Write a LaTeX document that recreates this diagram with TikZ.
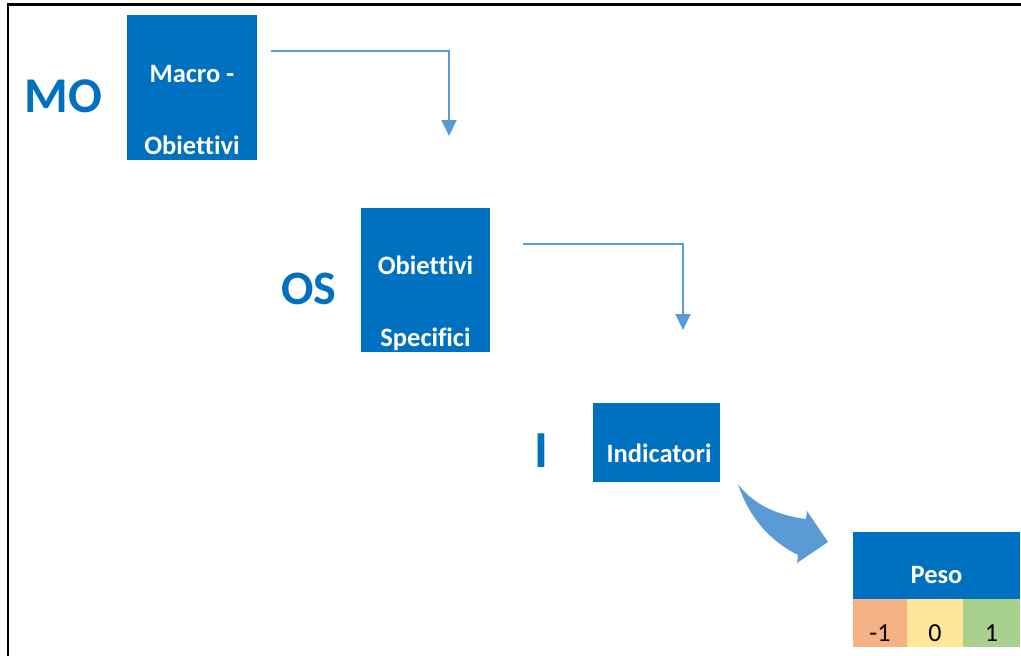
\documentclass[tikz,border=0pt]{standalone}
\usepackage{fontspec}
\setmainfont[Ligatures=NoCommon]{Carlito}
\usetikzlibrary{arrows.meta}
\definecolor{boxblue}{HTML}{0070C0}
\definecolor{arrblue}{HTML}{5B9BD5}
\definecolor{cellred}{HTML}{F4B183}
\definecolor{cellyel}{HTML}{FFE699}
\definecolor{cellgrn}{HTML}{A9D18E}
\tikzset{
  bluebox/.style={fill=boxblue, draw=none, inner sep=0pt},
  boxtext/.style={text=white, font=\fontsize{26.5}{30}\selectfont\bfseries, anchor=base, inner sep=0pt},
  biglabel/.style={text=boxblue, font=\bfseries, anchor=base, inner sep=0pt},
  elbow/.style={draw=arrblue, line width=2pt, -{Triangle[width=15pt,length=16pt]}},
  cell/.style={draw=none, inner sep=0pt},
  celltext/.style={text=black, font=\fontsize{26}{30}\selectfont, anchor=base, inner sep=0pt}
}
\begin{document}
\begin{tikzpicture}[x=1pt,y=-1pt]
\useasboundingbox (0,0) rectangle (1021,656);
% frame
\draw[line width=2.4pt] (7.8,660) -- (7.8,4.5) -- (1025,4.5);

% MO
\node[biglabel, font=\fontsize{50}{54}\selectfont\bfseries] (lmo) at (63.5,112) {MO};
\path[bluebox] (127,15) rectangle (257,160);
\node[inner sep=0pt, minimum width=130pt, minimum height=145pt] (mo) at (192,87.5) {};
\node[boxtext] (mot1) at (192,82) {Macro -};
\node[boxtext] (mot2) at (192,154) {Obiettivi};

% OS
\node[biglabel, font=\fontsize{48}{52}\selectfont\bfseries] (los) at (309,304) {OS};
\path[bluebox] (361,208) rectangle (490,352);
\node[inner sep=0pt, minimum width=129pt, minimum height=144pt] (os) at (425.5,280) {};
\node[boxtext] (ost1) at (425.5,274) {Obiettivi};
\node[boxtext] (ost2) at (425.5,346) {Specifici};

% I
\node[biglabel, font=\fontsize{52}{56}\selectfont\bfseries] (li) at (541.5,467) {I};
\path[bluebox] (593,403) rectangle (720,482);
\node[inner sep=0pt, minimum width=127pt, minimum height=79pt] (ind) at (656.5,442.5) {};
\node[boxtext] (indt) at (659,462) {Indicatori};

% elbow arrows
\coordinate (a1s) at (271,51);
\coordinate (a1e) at (449,136);
\draw[elbow] (a1s) -| (a1e);
\coordinate (a2s) at (523,244);
\coordinate (a2e) at (683,330);
\draw[elbow] (a2s) -| (a2e);

% curved block arrow
\fill[arrblue] (738,484) .. controls (752,503) and (775,515) .. (806,519)
  -- (807,511) -- (828,542) -- (797,563) -- (798,555)
  .. controls (768,540) and (748,515) .. (738,484) -- cycle;

% Peso table
\path[bluebox] (853,532) rectangle (1020,599);
\node[inner sep=0pt, minimum width=167pt, minimum height=67pt] (peso) at (936.5,565.5) {};
\node[boxtext] (pesot) at (936.5,583) {Peso};
\path[cell, fill=cellred] (853,599) rectangle (907,647);
\path[cell, fill=cellyel] (907,599) rectangle (963,647);
\path[cell, fill=cellgrn] (963,599) rectangle (1020,647);
\node[celltext] (cm1) at (880,641) {-1};
\node[celltext] (c0) at (935,641) {0};
\node[celltext] (cp1) at (991.5,641) {1};
\end{tikzpicture}
\end{document}
